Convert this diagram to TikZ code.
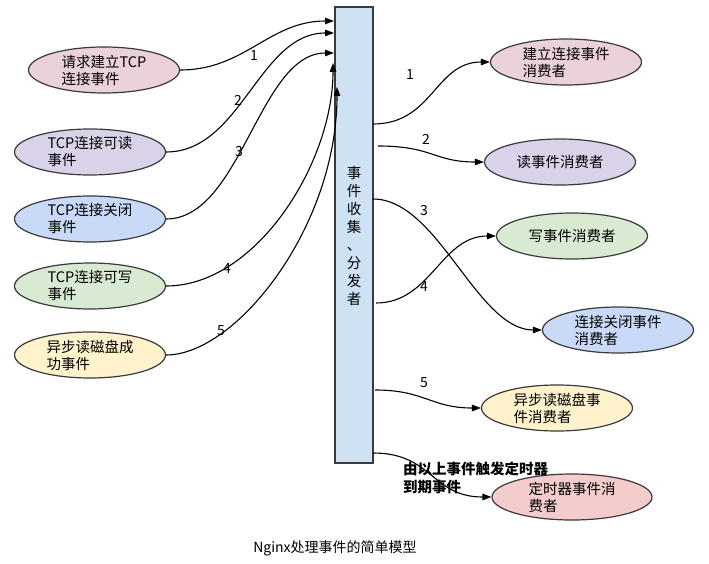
\documentclass[tikz,border=0pt]{standalone}
\usepackage{fontspec}
\setmainfont{Noto Sans CJK SC}
\usetikzlibrary{arrows.meta,shapes.geometric}

\definecolor{edgegray}{HTML}{3A3A3A}
\definecolor{hubfill}{HTML}{CFE2F3}
\definecolor{cpink}{HTML}{EAD1DC}
\definecolor{cpurple}{HTML}{D9D2E9}
\definecolor{cblue}{HTML}{C9DAF8}
\definecolor{cgreen}{HTML}{D9EAD3}
\definecolor{cyellow}{HTML}{FFF2CC}
\definecolor{cred}{HTML}{F4CCCC}

\tikzset{
  evt/.style={ellipse, draw=edgegray, line width=1.2pt, minimum width=151pt,
    minimum height=46pt, inner sep=0pt, align=left,
    font=\fontsize{14.5}{17}\selectfont},
  hubbox/.style={rectangle, draw=edgegray, fill=hubfill, line width=1.2pt,
    minimum width=38pt, minimum height=456pt, inner sep=0pt},
  flow/.style={line width=1.1pt, -{Triangle[length=9pt,width=6.5pt]}},
  num/.style={font=\fontsize{14}{16}\selectfont, inner sep=0pt},
}

\begin{document}
\begin{tikzpicture}[x=1pt,y=-1pt]
\useasboundingbox (0,0) rectangle (709,564);

% event collector / dispatcher
\node[hubbox] (hub) at (354,235) {};
\node[align=center, font=\fontsize{14.5}{18}\selectfont, inner sep=0pt] (hubtext) at (354,236)
  {事\\件\\收\\集\\、\\分\\发\\者};

% incoming events
\node[evt, fill=cpink]   (l1) at (104,70)  {请求建立TCP\\连接事件};
\node[evt, fill=cpurple] (l2) at (90,152)  {TCP连接可读\\事件};
\node[evt, fill=cblue]   (l3) at (90,219)  {TCP连接关闭\\事件};
\node[evt, fill=cgreen]  (l4) at (90,286)  {TCP连接可写\\事件};
\node[evt, fill=cyellow] (l5) at (90,355)  {异步读磁盘成\\功事件};

% consumers
\node[evt, fill=cpink]   (r1) at (566,62)  {建立连接事件\\消费者};
\node[evt, fill=cpurple] (r2) at (560,162) {读事件消费者};
\node[evt, fill=cgreen]  (r3) at (572,236) {写事件消费者};
\node[evt, fill=cblue]   (r4) at (618,330) {连接关闭事件\\消费者};
\node[evt, fill=cyellow] (r5) at (557,408) {异步读磁盘事\\件消费者};
\node[evt, fill=cred, minimum width=160pt] (r6) at (572,497) {定时器事件消\\费者};

% attachment points on the collector
\coordinate (a1) at (334,21);
\coordinate (a2) at (334,33);
\coordinate (a3) at (334,53);
\coordinate (a4) at (333,63);
\coordinate (a5) at (337,87);
\coordinate (b1) at (373,124);
\coordinate (b2) at (378,146);
\coordinate (b3) at (373,199);
\coordinate (b4) at (376,303);
\coordinate (b5) at (375,390);
\coordinate (b6) at (373,453);

% events flowing in
\draw[flow] (l1.east) .. controls +(65,0) and +(-65,0) .. (a1);
\draw[flow] (l2.east) .. controls +(75,0) and +(-75,0) .. (a2);
\draw[flow] (l3.east) .. controls +(75,0) and +(-75,0) .. (a3);
\draw[flow] (l4.east) .. controls +(90,0) and +(0,100) .. (a4);
\draw[flow] (l5.east) .. controls +(70,0) and +(0,140) .. (a5);

\node[num] (n1) at (254,56)  {1};
\node[num] (n2) at (238,100) {2};
\node[num] (n3) at (239,152) {3};
\node[num] (n4) at (227,269) {4};
\node[num] (n5) at (221,331) {5};

% events dispatched
\draw[flow] (b1) .. controls +(60,0) and +(-55,0) .. (r1.west);
\draw[flow] (b2) .. controls +(55,0) and +(-50,0) .. (r2.west);
\draw[flow] (b3) .. controls +(65,0) and +(-65,0) .. (r4.west);
\draw[flow] (b4) .. controls +(55,0) and +(-55,0) .. (r3.west);
\draw[flow] (b5) .. controls +(50,0) and +(-50,0) .. (r5.west);
\draw[flow] (b6) .. controls +(60,0) and +(-60,0) .. (r6.west);

\node[num] (m1) at (410,75)  {1};
\node[num] (m2) at (426,139) {2};
\node[num] (m3) at (424,211) {3};
\node[num] (m4) at (424,287) {4};
\node[num] (m5) at (424,383) {5};

\node[anchor=west, align=left, inner sep=0pt,
  font=\fontsize{14.5}{18}\selectfont\bfseries] (timer) at (403,478)
  {由以上事件触发定时器\\到期事件};

% caption
\node[font=\fontsize{14}{16}\selectfont, inner sep=0pt] (caption) at (335,548)
  {Nginx处理事件的简单模型};
\end{tikzpicture}
\end{document}
